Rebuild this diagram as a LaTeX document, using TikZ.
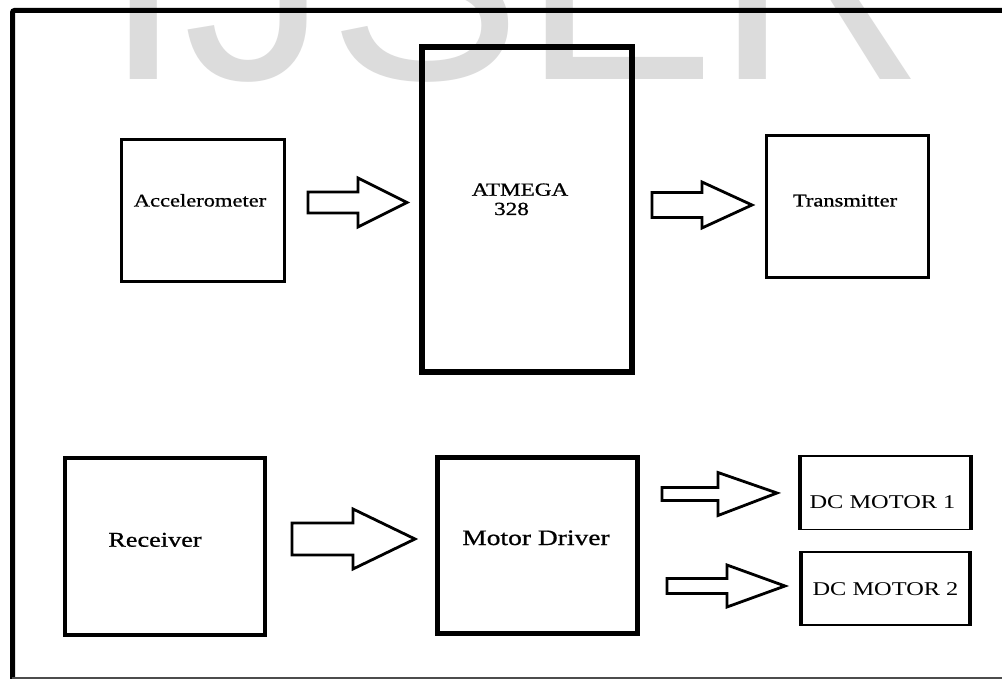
\documentclass[tikz,border=0pt]{standalone}
\usepackage{fontspec}
\setmainfont{Liberation Serif}[FakeStretch=1.25,FakeBold=0.8]
\newfontfamily\lightfont{Liberation Serif}[FakeStretch=1.25]
\newfontfamily\wmfont{Liberation Sans}
\usetikzlibrary{calc}
\definecolor{wmgray}{HTML}{DCDCDC}
\tikzset{
  box/.style={draw=black, rectangle, inner sep=0pt, fill=none},
  lbl/.style={inner sep=0pt, anchor=base, text=black},
  barrow/.style={draw=black, line width=2.8pt, line join=miter, fill=white},
}
\newcommand\blockarr[5]{%
  \draw[barrow] let \p1=(#1), \p2=(#2) in
    (\x1,{\y1+#3}) -- ({\x1+#5},{\y1+#3}) -- ({\x1+#5},{\y1+#4}) -- (\x2,\y2)
    -- ({\x1+#5},{\y1-#4}) -- ({\x1+#5},{\y1-#3}) -- (\x1,{\y1-#3}) -- cycle;}
\begin{document}
\begin{tikzpicture}[x=1pt,y=-1pt]
\useasboundingbox (0,0) rectangle (1002,679);
\clip (0,0) rectangle (1002,679);
\fill[white] (0,0) rectangle (1002,679);
% watermark
\node[inner sep=0pt, anchor=base west, text=wmgray, font=\wmfont\fontsize{290}{290}\selectfont] (wm) at (103,80) {IJSER};
% outer frame
\draw[line width=5pt, rounded corners=2pt] (12.5,680) -- (12.5,10.5) -- (1010,10.5);
\draw[line width=1.5pt, draw=black!70] (12,677.8) -- (1010,677.8);
% boxes
\node[box, line width=3pt, minimum width=162.5pt, minimum height=142pt] (acc) at (202.75,210.5) {};
\node[box, line width=6pt, minimum width=210pt, minimum height=324.5pt] (atm) at (526.5,209.75) {};
\node[box, line width=3pt, minimum width=161.5pt, minimum height=142.5pt] (tx) at (847.25,206.75) {};
\node[box, line width=4pt, minimum width=200.5pt, minimum height=177pt] (rx) at (164.75,546.5) {};
\node[box, line width=5pt, minimum width=199.5pt, minimum height=176pt] (md) at (537.25,545) {};
\node[box, line width=1.5pt, minimum width=169.5pt, minimum height=73.5pt] (dc1) at (885.25,492.75) {};
\node[box, line width=1.5pt, minimum width=167.5pt, minimum height=73pt] (dc2) at (885.75,588.5) {};
\draw[line width=4pt] (dc1.north west) -- (dc1.south west);
\draw[line width=4pt] (dc1.north east) -- (dc1.south east);
\draw[line width=4pt] (dc2.north west) -- (dc2.south west);
\draw[line width=4pt] (dc2.north east) -- (dc2.south east);
% labels
\node[lbl, font=\fontsize{18}{20}\selectfont] (accl) at (200,206.5) {Accelerometer};
\node[lbl, font=\fontsize{18}{20}\selectfont] (txl) at (845,206.5) {Transmitter};
\node[lbl, font=\fontsize{18.5}{20}\selectfont] (atml1) at (520,195.7) {ATMEGA};
\node[lbl, font=\fontsize{18.5}{20}\selectfont] (atml2) at (511.5,215) {328};
\node[lbl, font=\fontsize{21}{24}\selectfont] (rxl) at (155,546.7) {Receiver};
\node[lbl, font=\fontsize{22}{24}\selectfont] (mdl) at (536,545) {Motor Driver};
\node[lbl, font=\lightfont\fontsize{19.5}{22}\selectfont] (dc1l) at (882.5,508.3) {DC MOTOR 1};
\node[lbl, font=\lightfont\fontsize{19.5}{22}\selectfont] (dc2l) at (885.5,595) {DC MOTOR 2};
% block arrows
\coordinate (a1t) at (308,202.5); \coordinate (a1p) at (407,202.5);
\coordinate (a2t) at (652,205);   \coordinate (a2p) at (752,205);
\coordinate (a3t) at (292,539);   \coordinate (a3p) at (415,539);
\coordinate (a4t) at (662,494);   \coordinate (a4p) at (777,493);
\coordinate (a5t) at (667,586);   \coordinate (a5p) at (785,586);
\blockarr{a1t}{a1p}{10.5pt}{24.5pt}{50pt}
\blockarr{a2t}{a2p}{12.5pt}{23pt}{50pt}
\blockarr{a3t}{a3p}{16pt}{30pt}{61pt}
\blockarr{a4t}{a4p}{6.5pt}{21.5pt}{56pt}
\blockarr{a5t}{a5p}{7.5pt}{21pt}{60pt}
\end{tikzpicture}
\end{document}
